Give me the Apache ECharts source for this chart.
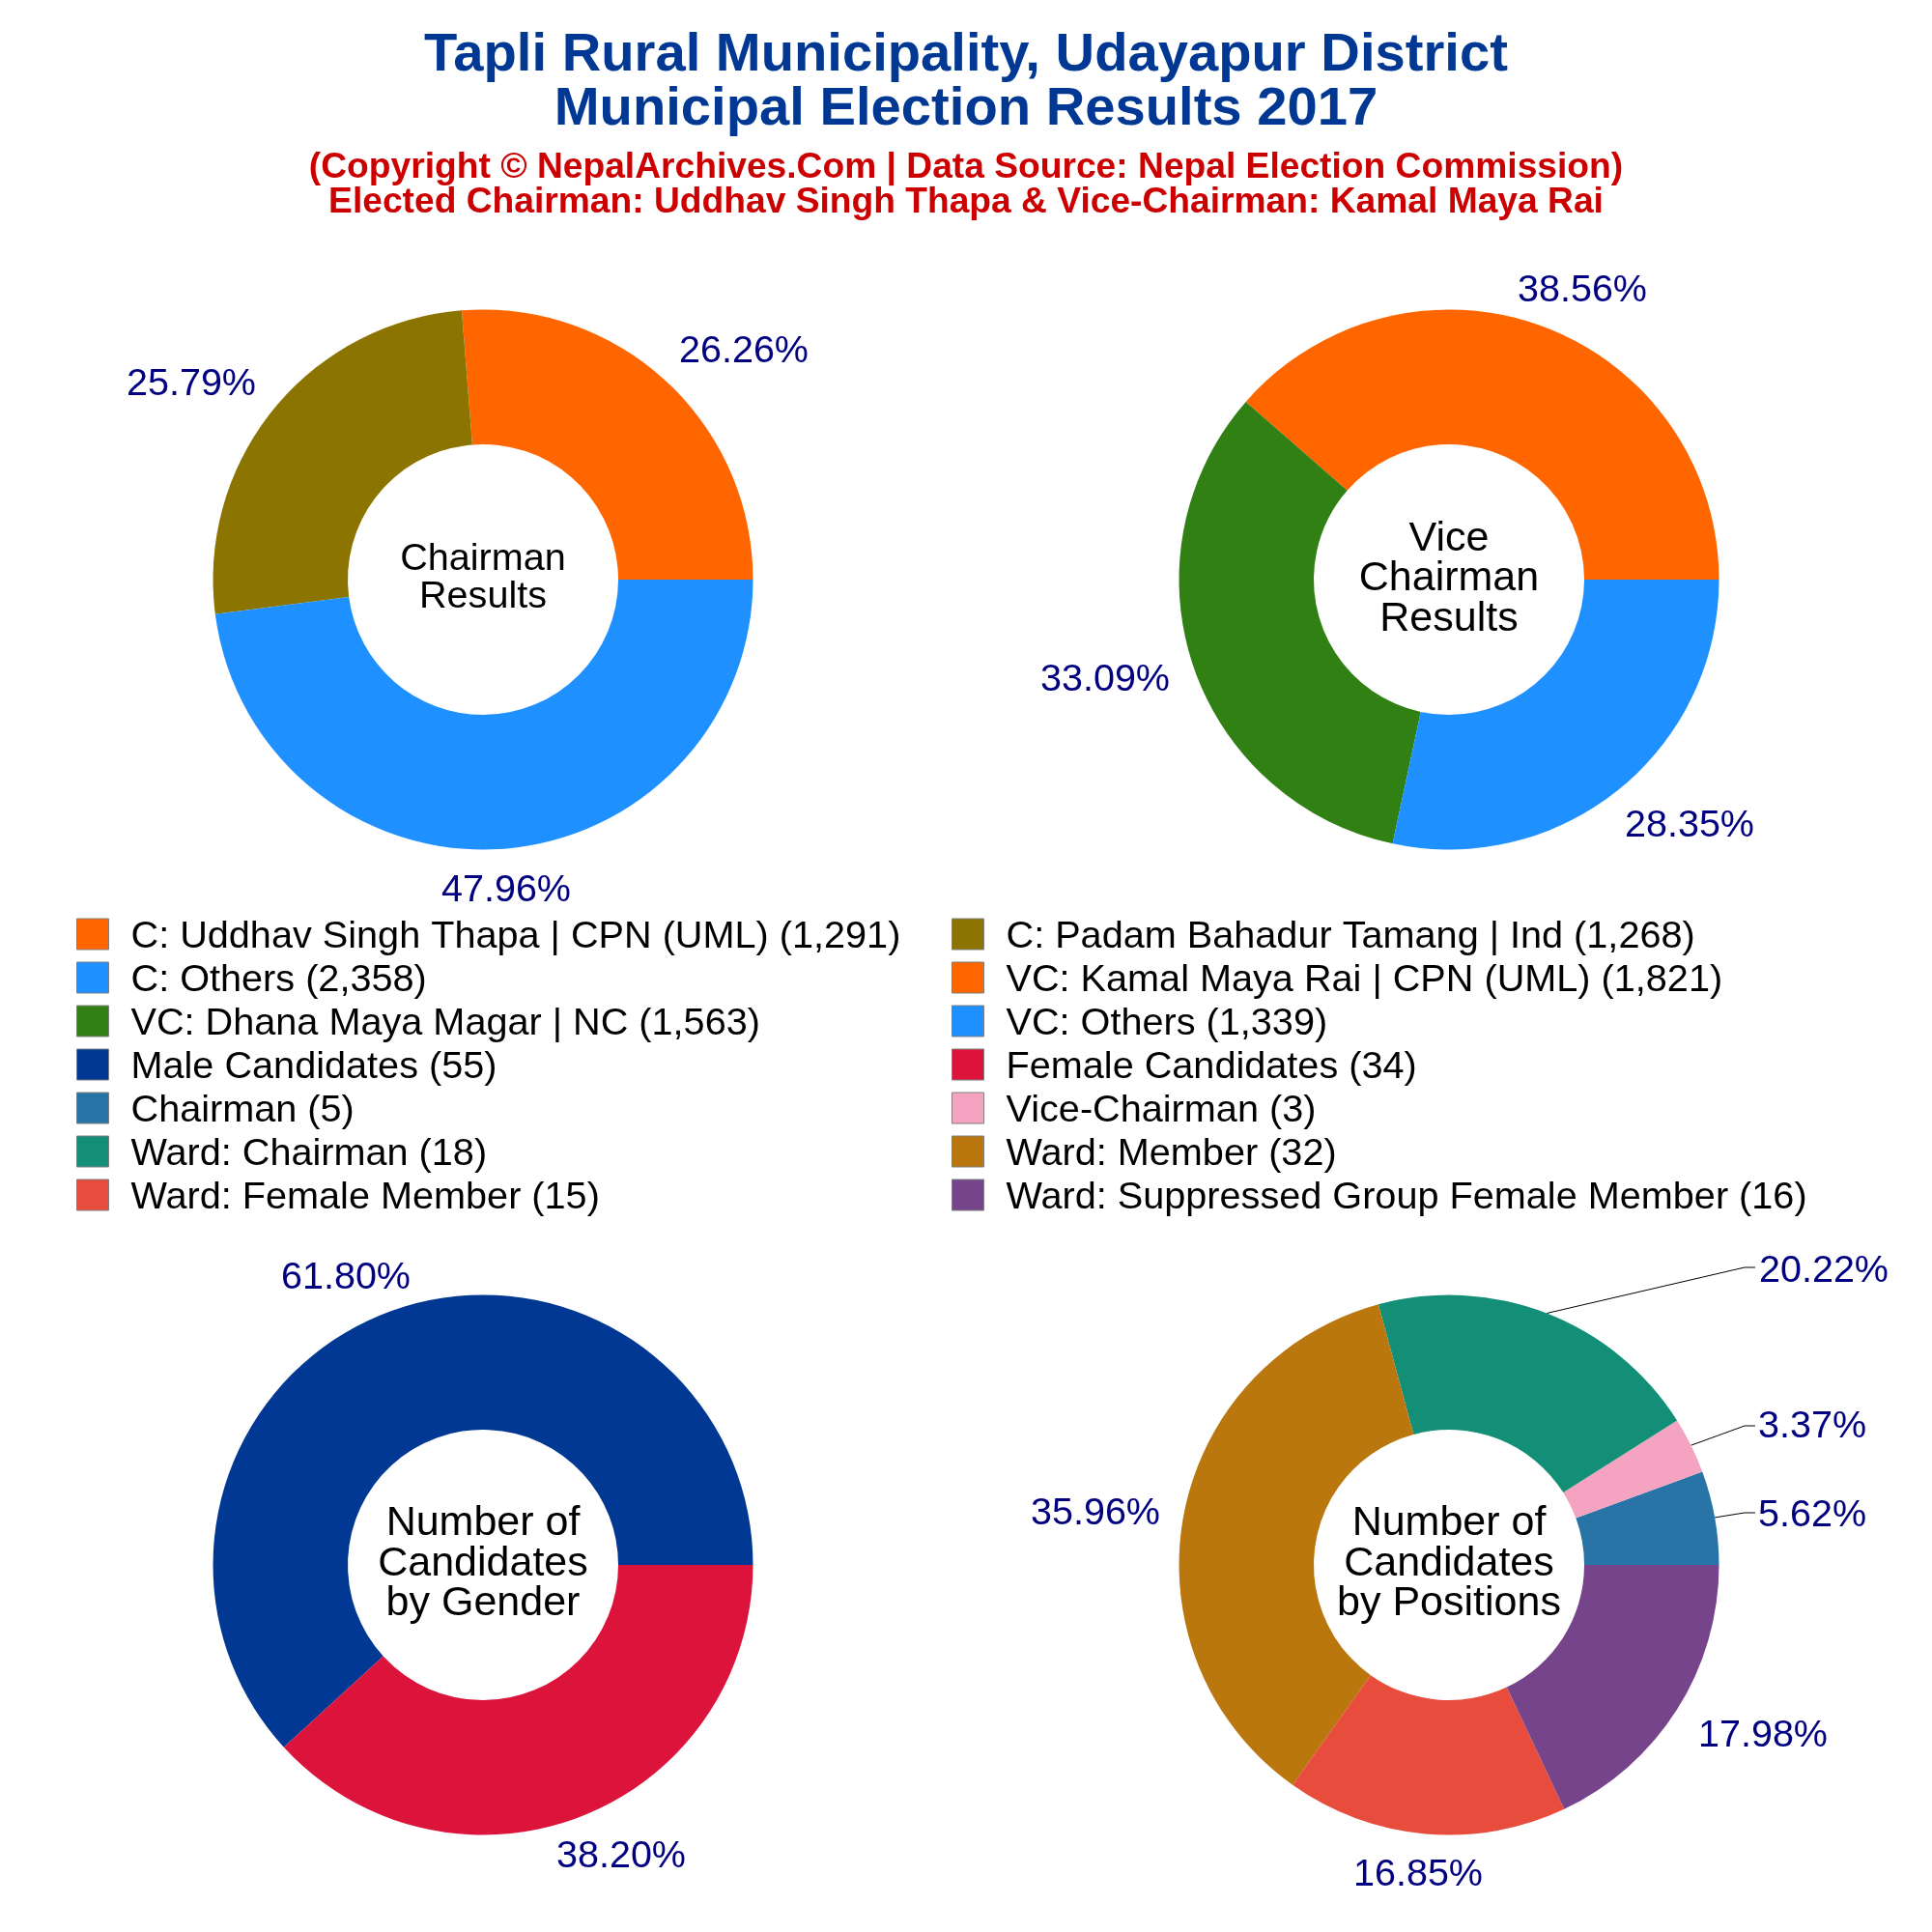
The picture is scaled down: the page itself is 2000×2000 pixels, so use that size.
<!DOCTYPE html>
<html>
<head>
<meta charset="utf-8">
<title>Tapli Rural Municipality Election Results 2017</title>
<script src="https://cdn.jsdelivr.net/npm/echarts@6/dist/echarts.min.js"></script>
<style>
html, body { margin: 0; padding: 0; background: #fff; }
#chart { width: 2000px; height: 2000px; }
</style>
</head>
<body>
<div id="chart"></div>
<script>
// chart values
var chairmanNames = ['C: Uddhav Singh Thapa | CPN (UML)', 'C: Padam Bahadur Tamang | Ind', 'C: Others'];
var chairmanVotes = [1291, 1268, 2358];
var viceNames = ['VC: Kamal Maya Rai | CPN (UML)', 'VC: Dhana Maya Magar | NC', 'VC: Others'];
var viceVotes = [1821, 1563, 1339];
var genderNames = ['Male Candidates', 'Female Candidates'];
var genderCounts = [55, 34];
var positionNames = ['Chairman', 'Vice-Chairman', 'Ward: Chairman', 'Ward: Member', 'Ward: Female Member', 'Ward: Suppressed Group Female Member'];
var positionCounts = [5, 3, 18, 32, 15, 16];

// colours
var chairmanColors = ['#FF6600', '#8B7500', '#1E90FF'];
var viceColors = ['#FF6600', '#308014', '#1E90FF'];
var genderColors = ['#003893', '#DC143C'];
var positionColors = ['#2874A6', '#F4A3C0', '#148F77', '#B9770E', '#E74C3C', '#76448A'];

// label centres, measured from the centre of each ring
var chairmanLabelPos = [[270, -236], [-302, -202], [24, 322]];
var viceLabelPos = [[138, -299], [-356, 104], [249, 255]];
var genderLabelPos = [[-142, -297], [143, 302]];
var positionLabelPos = [[376, -51], [376, -143], [388, -304], [-366, -53], [-32, 321], [325, 177]];
// elbow of the leader lines in the last ring: first three slices only
var positionElbows = [[306, -54], [306, -144], [306, -308]];

function legendName(name, value) {
    return name + ' (' + value.toLocaleString('en-US') + ')';
}

function ring(center, names, values, colors, labelPos, elbows) {
    var total = values.reduce(function (a, b) { return a + b; }, 0);
    return {
        type: 'pie',
        center: center,
        radius: [140, 279.5],
        startAngle: 0,
        clockwise: false,
        avoidLabelOverlap: false,
        animation: false,
        silent: true,
        data: names.map(function (n, i) {
            return {
                name: legendName(n, values[i]),
                value: values[i],
                itemStyle: { color: colors[i] },
                labelLine: { show: !!(elbows && elbows[i]) }
            };
        }),
        label: {
            position: 'outside',
            color: '#000080',
            fontSize: 39.5,
            fontFamily: 'Liberation Sans',
            // own rounding: the reference shows plain 2-decimal shares
            formatter: function (p) {
                return (p.value / total * 100).toFixed(2) + '%';
            }
        },
        labelLine: {
            length: 10,
            length2: 10,
            smooth: false,
            lineStyle: { color: '#000', width: 1 }
        },
        labelLayout: function (p) {
            var off = labelPos[p.dataIndex];
            var res = {
                x: center[0] + off[0],
                y: center[1] + off[1],
                align: 'center',
                verticalAlign: 'middle'
            };
            if (elbows && elbows[p.dataIndex] && p.labelLinePoints) {
                var e = elbows[p.dataIndex];
                res.labelLinePoints = [
                    p.labelLinePoints[0],
                    [center[0] + e[0], center[1] + e[1]],
                    [center[0] + e[0] + 11, center[1] + e[1]]
                ];
            }
            return res;
        }
    };
}

function centerText(text, x, y, size, lineHeight) {
    return {
        text: text,
        left: x,
        top: y,
        padding: 0,
        textAlign: 'center',
        textVerticalAlign: 'middle',
        textStyle: {
            color: '#000',
            fontFamily: 'Liberation Sans',
            fontWeight: 'normal',
            fontSize: size,
            lineHeight: lineHeight
        }
    };
}

function legendColumn(left, names) {
    return {
        orient: 'vertical',
        left: left,
        top: 943.5,
        padding: 0,
        itemWidth: 33,
        itemHeight: 32,
        itemGap: -2,
        icon: 'rect',
        selectedMode: false,
        itemStyle: { borderColor: '#7f7f7f', borderWidth: 1 },
        // rich token: lets the text sit a little below the middle of its swatch
        formatter: function (name) {
            return '{t|' + name + '}';
        },
        textStyle: {
            rich: {
                t: {
                    color: '#000',
                    fontFamily: 'Liberation Sans',
                    fontSize: 39.65,
                    lineHeight: 32,
                    padding: [7, 0, 0, 18]
                }
            }
        },
        data: names
    };
}

var chart = echarts.init(document.getElementById('chart'));

chart.setOption({
    backgroundColor: '#fff',
    animation: false,
    title: [
        {
            text: 'Tapli Rural Municipality, Udayapur District\nMunicipal Election Results 2017',
            left: 'center',
            top: 30,
            padding: 0,
            textStyle: {
                color: '#003893',
                fontFamily: 'Liberation Sans',
                fontWeight: 'bold',
                fontSize: 56.2,
                lineHeight: 56
            }
        },
        {
            text: '(Copyright © NepalArchives.Com | Data Source: Nepal Election Commission)\nElected Chairman: Uddhav Singh Thapa & Vice-Chairman: Kamal Maya Rai',
            left: 'center',
            top: 156,
            padding: 0,
            textStyle: {
                color: '#CC0000',
                fontFamily: 'Liberation Sans',
                fontWeight: 'bold',
                fontSize: 37.2,
                lineHeight: 36
            }
        },
        centerText('Chairman\nResults', 500, 599, 39.6, 39),
        centerText('Vice\nChairman\nResults', 1500, 599.5, 43, 41.5),
        centerText('Number of\nCandidates\nby Gender', 500, 1619, 43, 41.5),
        centerText('Number of\nCandidates\nby Positions', 1500, 1619, 43, 41.5)
    ],
    legend: [
        legendColumn(79, [
            legendName(chairmanNames[0], chairmanVotes[0]),
            legendName(chairmanNames[2], chairmanVotes[2]),
            legendName(viceNames[1], viceVotes[1]),
            legendName(genderNames[0], genderCounts[0]),
            legendName(positionNames[0], positionCounts[0]),
            legendName(positionNames[2], positionCounts[2]),
            legendName(positionNames[4], positionCounts[4])
        ]),
        legendColumn(985, [
            legendName(chairmanNames[1], chairmanVotes[1]),
            legendName(viceNames[0], viceVotes[0]),
            legendName(viceNames[2], viceVotes[2]),
            legendName(genderNames[1], genderCounts[1]),
            legendName(positionNames[1], positionCounts[1]),
            legendName(positionNames[3], positionCounts[3]),
            legendName(positionNames[5], positionCounts[5])
        ])
    ],
    series: [
        ring([500, 600], chairmanNames, chairmanVotes, chairmanColors, chairmanLabelPos),
        ring([1500, 600], viceNames, viceVotes, viceColors, viceLabelPos),
        ring([500, 1620], genderNames, genderCounts, genderColors, genderLabelPos),
        ring([1500, 1620], positionNames, positionCounts, positionColors, positionLabelPos, positionElbows)
    ]
});
</script>
</body>
</html>
